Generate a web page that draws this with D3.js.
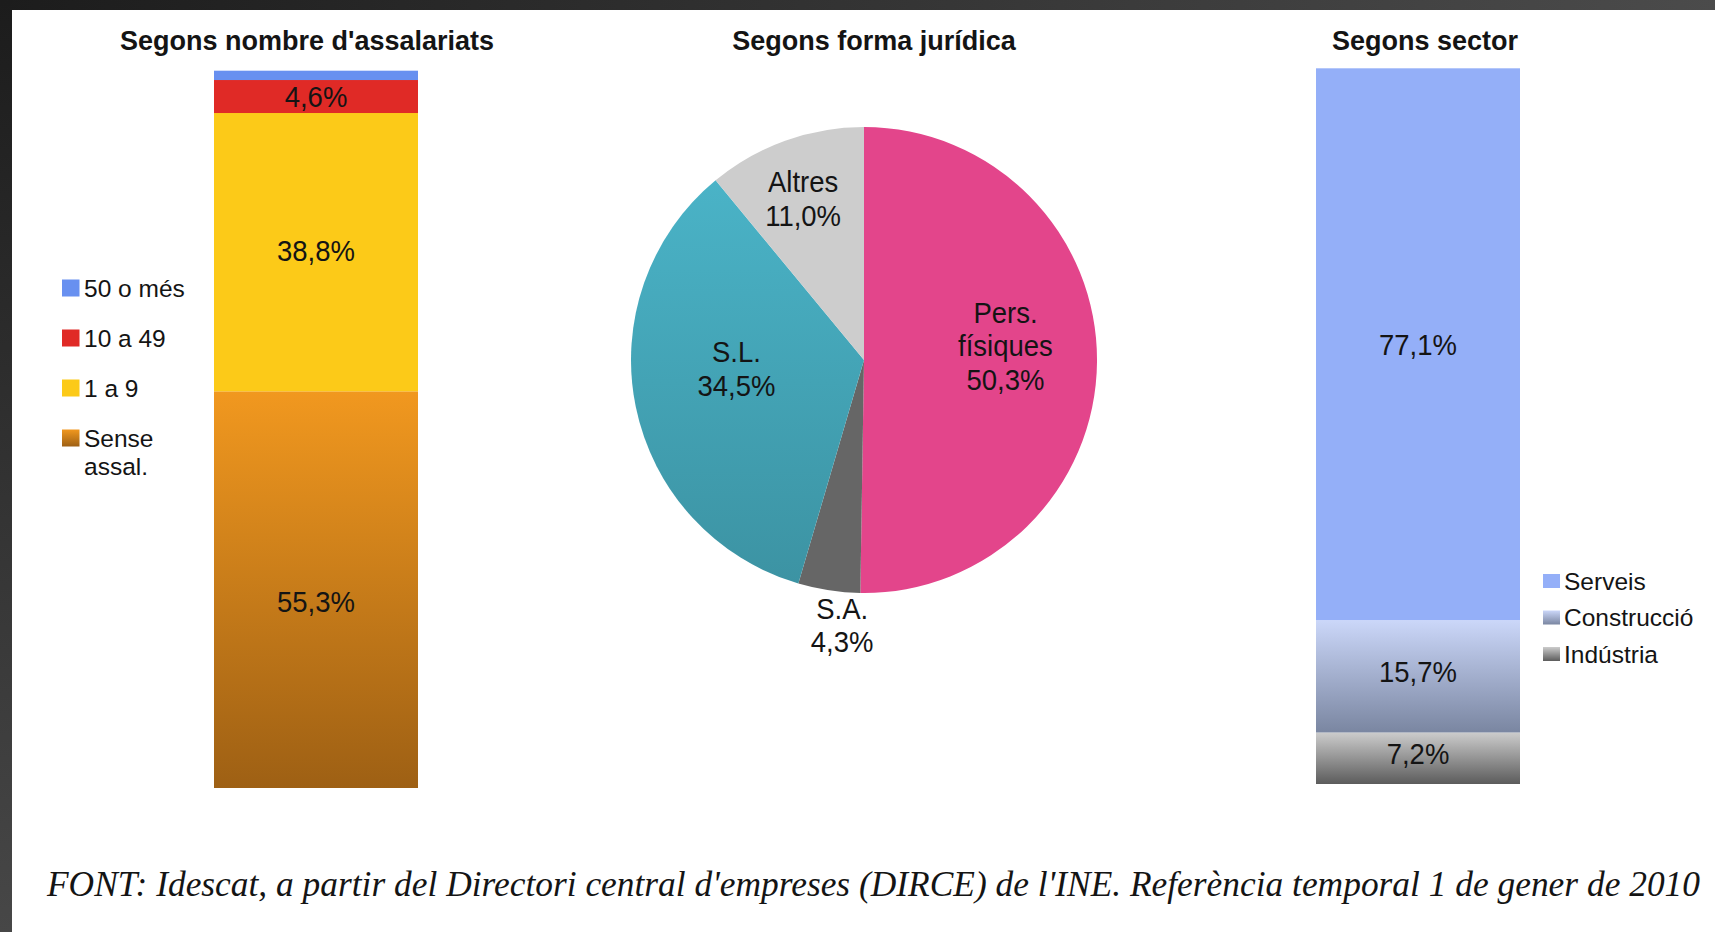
<!DOCTYPE html>
<html>
<head>
<meta charset="utf-8">
<script src="https://cdn.jsdelivr.net/npm/d3@7"></script>
<style>
  body { margin: 0; background: #fff; overflow: hidden; }
  svg { display: block; font-family: "Liberation Sans", Arial, sans-serif; }
</style>
</head>
<body>
<svg id="chart" width="1715" height="932"></svg>
<script>
// --- data ---
const sizeCats = ["Sense assal.", "1 a 9", "10 a 49", "50 o més"];
const sizeVals = [55.3, 38.8, 4.6, 1.3];
const sizeLabels = ["55,3%", "38,8%", "4,6%", null];

const formCats = ["Pers. físiques", "S.A.", "S.L.", "Altres"];
const formVals = [50.3, 4.3, 34.5, 11.0];
const formLabels = [["Pers.", "físiques", "50,3%"], ["S.A.", "4,3%"], ["S.L.", "34,5%"], ["Altres", "11,0%"]];

const sectorCats = ["Indústria", "Construcció", "Serveis"];
const sectorVals = [7.2, 15.7, 77.1];
const sectorLabels = ["7,2%", "15,7%", "77,1%"];

const titles = ["Segons nombre d'assalariats", "Segons forma jurídica", "Segons sector"];
const source = "FONT: Idescat, a partir del Directori central d'empreses (DIRCE) de l'INE. Referència temporal 1 de gener de 2010";

// --- styles ---
const sizeFills = ["url(#gOrange)", "#fcca18", "#e02a26", "#6890f0"];
const formFills = ["#e3458b", "#666666", "url(#gTeal)", "#cdcdcd"];
const sectorFills = ["url(#gIndus)", "url(#gConst)", "#94aff8"];
const sizeLabelShift = [11, -2, 0, 0];
const sectorLabelShift = [-5, -5, 0];
const textCol = "#141414";
const stretch = "scale(1,1.1)";   // value labels in the original are a bit tall

const svg = d3.select("#chart");
const defs = svg.append("defs");

function grad(id, c0, c1, horiz) {
  let g = defs.append("linearGradient").attr("id", id)
    .attr("x1", 0).attr("y1", 0).attr("x2", horiz ? 1 : 0).attr("y2", horiz ? 0 : 1);
  g.append("stop").attr("offset", "0%").attr("stop-color", c0);
  g.append("stop").attr("offset", "100%").attr("stop-color", c1);
}
grad("gOrange", "#f1981f", "#9e6014");
grad("gTeal", "#4ab3c7", "#3c93a3");
grad("gConst", "#cbd7f9", "#7a86a1");
grad("gIndus", "#cccccc", "#5c5c5c");
grad("gFrameTop", "#1c1c1c", "#4b4b4b", true);
grad("gFrameLeft", "#1c1c1c", "#474747");

// frame
svg.append("rect").attr("x", 0).attr("y", 0).attr("width", 1715).attr("height", 10).attr("fill", "url(#gFrameTop)");
svg.append("rect").attr("x", 0).attr("y", 0).attr("width", 12).attr("height", 932).attr("fill", "url(#gFrameLeft)");

// titles
const titleX = [307, 874, 1425];
svg.selectAll("text.title").data(titles).join("text")
  .attr("class", "title")
  .attr("x", (d, i) => titleX[i]).attr("y", 50)
  .attr("text-anchor", "middle")
  .attr("font-size", 27).attr("font-weight", "bold")
  .attr("fill", textCol)
  .text(d => d);

const barW = 204;

function stackedBar(x0, top, bottom, vals, fills, labels, shifts) {
  let y = d3.scaleLinear().domain([0, 100]).range([bottom, top]);
  let cum = Array.from(d3.cumsum(vals));
  let segs = vals.map((v, i) => ({ v: v, y0: cum[i] - v, y1: cum[i], fill: fills[i], label: labels[i], shift: shifts[i] }));
  let g = svg.append("g");
  g.selectAll("rect").data(segs).join("rect")
    .attr("x", x0).attr("width", barW)
    .attr("y", d => y(d.y1))
    .attr("height", d => y(d.y0) - y(d.y1))
    .attr("fill", d => d.fill);
  g.selectAll("text").data(segs.filter(d => d.label)).join("text")
    .attr("transform", d => `translate(${x0 + barW / 2},${(y(d.y0) + y(d.y1)) / 2 + d.shift}) ${stretch}`)
    .attr("dy", "0.36em")
    .attr("text-anchor", "middle")
    .attr("font-size", 27.5)
    .attr("fill", textCol)
    .text(d => d.label);
}

stackedBar(214, 70.7, 788, sizeVals, sizeFills, sizeLabels, sizeLabelShift);
stackedBar(1316, 68.3, 784, sectorVals, sectorFills, sectorLabels, sectorLabelShift);

// legend: left (reverse order, top = 50 o més)
const leftLeg = svg.append("g").attr("transform", "translate(62,0)");
const leftItems = sizeCats.map((c, i) => ({ name: c, fill: sizeFills[i] })).reverse();
leftItems.forEach((d, i) => {
  let cy = 288 + i * 50;
  leftLeg.append("rect").attr("x", 0).attr("y", cy - 8.5).attr("width", 17.5).attr("height", 17).attr("fill", d.fill);
  let t = leftLeg.append("text").attr("x", 22).attr("y", cy).attr("dy", "0.36em")
    .attr("font-size", 24.5).attr("fill", textCol);
  if (d.name === "Sense assal.") {
    d.name.split(" ").forEach((w, j) => t.append("tspan").attr("x", 22).attr("dy", j == 0 ? "0.36em" : 28).text(w));
  } else {
    t.text(d.name);
  }
});

// legend: right (Serveis on top)
const rightLeg = svg.append("g").attr("transform", "translate(1543,0)");
const rightItems = sectorCats.map((c, i) => ({ name: c, fill: sectorFills[i] })).reverse();
rightItems.forEach((d, i) => {
  let cy = 581 + i * 36.5;
  rightLeg.append("rect").attr("x", 0).attr("y", cy - 7).attr("width", 17).attr("height", 14).attr("fill", d.fill);
  rightLeg.append("text").attr("x", 21).attr("y", cy).attr("dy", "0.36em")
    .attr("font-size", 24.5).attr("fill", textCol).text(d.name);
});

// pie
const cx = 864, cy = 360, r = 233;
const pie = d3.pie().sort(null).value(d => d)(formVals);
const arc = d3.arc().innerRadius(0).outerRadius(r);
svg.append("g").attr("transform", `translate(${cx},${cy})`)
  .selectAll("path").data(pie).join("path")
  .attr("d", arc)
  .attr("fill", (d, i) => formFills[i]);

// label placement: fraction of radius along the slice middle, plus a small nudge
const labelK = [0.62, 1.14, 0.62, 0.62];
const labelNudge = [[-3, -16], [18, 2], [14, -21], [-12, -26]];
const lineH = 33.5;
const pieLabels = svg.append("g").attr("transform", `translate(${cx},${cy})`);
pie.forEach((p, i) => {
  let la = d3.arc().innerRadius(r * labelK[i]).outerRadius(r * labelK[i]);
  let c = la.centroid(p);
  let px = c[0] + labelNudge[i][0], py = c[1] + labelNudge[i][1];
  let lines = formLabels[i];
  lines.forEach((l, j) => {
    pieLabels.append("text")
      .attr("transform", `translate(${px},${py + (j - (lines.length - 1) / 2) * lineH}) ${stretch}`)
      .attr("dy", "0.36em")
      .attr("text-anchor", "middle")
      .attr("font-size", 27.5)
      .attr("fill", textCol)
      .text(l);
  });
});

// source note
svg.append("text")
  .attr("x", 47).attr("y", 896)
  .attr("font-family", "'Liberation Serif', 'DejaVu Serif', serif")
  .attr("font-style", "italic")
  .attr("font-size", 35)
  .attr("fill", textCol)
  .attr("textLength", 1653)
  .attr("lengthAdjust", "spacingAndGlyphs")
  .text(source);
</script>
</body>
</html>
